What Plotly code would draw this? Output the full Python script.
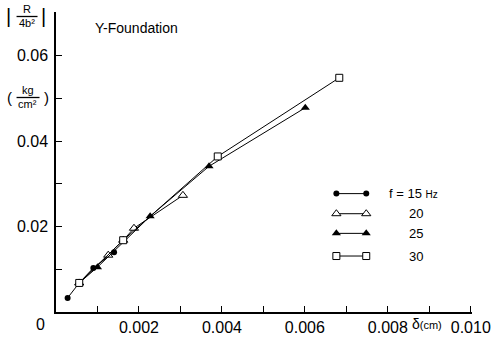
import plotly.graph_objects as go

# data (delta in cm, |R/4b^2| in kg/cm^2)
x15 = [0.00028, 0.00056, 0.00090, 0.00140]
y15 = [0.0033, 0.0068, 0.0103, 0.0140]
x20 = [0.00056, 0.00126, 0.00162, 0.00188, 0.00306]
y20 = [0.0068, 0.0133, 0.0168, 0.0196, 0.0273]
x25 = [0.00056, 0.00100, 0.00227, 0.00369, 0.00601]
y25 = [0.0068, 0.0105, 0.0224, 0.0341, 0.0478]
x30 = [0.00056, 0.00162, 0.00390, 0.00683]
y30 = [0.0068, 0.0168, 0.0364, 0.0548]

x_ticks = [0.001 * i for i in range(1, 11)]
x_ticktext = ["", "0.002", "", "0.004", "", "0.006", "", "0.008", "", "0.010"]
y_ticks = [0.01 * i for i in range(1, 8)]
y_ticktext = ["", "0.02", "", "0.04", "", "0.06", ""]

legend_labels = ["f = 15 <span style='font-size:10px'>Hz</span>", "20", "25", "30"]
legend_y = [0.0277, 0.0230, 0.0184, 0.0131]
legend_x = [0.00676, 0.00748]
legend_text_x = [0.00798, 0.00846, 0.00846, 0.00846]

FONT = "Liberation Sans"
black = "black"

series = [
    (x15, y15, dict(symbol="circle", size=6, color=black)),
    (x20, y20, dict(symbol="triangle-up", size=8, color="white", line=dict(width=1, color=black))),
    (x25, y25, dict(symbol="triangle-up", size=8, color=black)),
    (x30, y30, dict(symbol="square", size=7, color="white", line=dict(width=1, color=black))),
]

fig = go.Figure()
for xs, ys, mk in series:
    fig.add_trace(go.Scatter(x=xs, y=ys, mode="lines+markers",
                             line=dict(color=black, width=1), marker=mk,
                             showlegend=False, cliponaxis=False))

# custom legend
for (xs, ys, mk), ly in zip(series, legend_y):
    fig.add_trace(go.Scatter(x=legend_x, y=[ly, ly], mode="lines+markers",
                             line=dict(color=black, width=1), marker=mk,
                             showlegend=False))

annotations = []
for lbl, ly, lx in zip(legend_labels, legend_y, legend_text_x):
    annotations.append(dict(x=lx, y=ly, xref="x", yref="y", text=lbl,
                            showarrow=False, xanchor="left", yanchor="middle",
                            font=dict(family=FONT, size=13, color=black)))

L, R, T, B = 55.5, 19, 12, 25
W, H = 491, 337
pw, ph = W - L - R, H - T - B

def px(xp):
    return (xp - L) / pw

def py(yp):
    return (H - B - yp) / ph

def txt(x, y, s, size, anchor="center"):
    annotations.append(dict(x=px(x), y=py(y), xref="paper", yref="paper", text=s,
                            showarrow=False, xanchor=anchor, yanchor="middle",
                            borderpad=0,
                            font=dict(family=FONT, size=size, color=black)))

# title inside plot
txt(94, 28, "Y-Foundation", 14, "left")
# x zero label and axis label
txt(40, 324, "0", 16)
txt(427, 324, "δ<span style='font-size:11px'>(cm)</span>", 14)
# y axis title |R/4b^2|
txt(8, 16, "|", 20)
txt(43, 16, "|", 20)
txt(26, 9, "R", 11)
txt(26, 23, "4b²", 11)
# (kg/cm^2)
txt(9, 97, "(", 15)
txt(46, 97, ")", 15)
txt(27, 90, "kg", 11)
txt(27, 104, "cm²", 11)

shapes = [
    dict(type="line", xref="paper", yref="paper", x0=px(16), x1=px(37), y0=py(16.5), y1=py(16.5),
         line=dict(color=black, width=1.3)),
    dict(type="line", xref="paper", yref="paper", x0=px(16), x1=px(39), y0=py(97.5), y1=py(97.5),
         line=dict(color=black, width=1.3)),
]

fig.update_layout(
    width=W, height=H,
    margin=dict(l=L, r=R, t=T, b=B, autoexpand=False),
    paper_bgcolor="white", plot_bgcolor="white",
    font=dict(family=FONT, size=16, color=black),
    annotations=annotations, shapes=shapes,
    xaxis=dict(range=[0, 0.01003], showgrid=False, zeroline=False, showline=True,
               linecolor=black, linewidth=1.5, ticks="inside", ticklen=6, tickwidth=1.3,
               tickcolor=black, tickvals=x_ticks, ticktext=x_ticktext, automargin=False,
               tickfont=dict(family=FONT, size=16), ticklabeloverflow="allow"),
    yaxis=dict(range=[0, 0.0702], showgrid=False, zeroline=False, showline=True,
               linecolor=black, linewidth=1.5, ticks="inside", ticklen=6, tickwidth=1.3,
               tickcolor=black, tickvals=y_ticks, ticktext=y_ticktext, automargin=False,
               tickfont=dict(family=FONT, size=16), ticklabelstandoff=3,
               ticklabeloverflow="allow"),
)

fig.write_html("out.html")
